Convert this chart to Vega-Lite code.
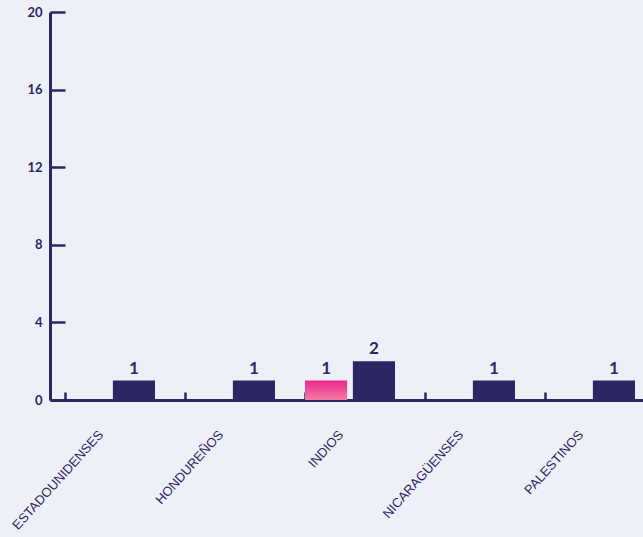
{
  "$schema": "https://vega.github.io/schema/vega-lite/v6.json",
  "width": 593,
  "height": 388,
  "autosize": {"type": "none"},
  "padding": {"left": 50, "top": 12, "right": 0, "bottom": 137},
  "background": "#eef0f8",
  "config": {"view": {"stroke": null}, "font": "Liberation Sans"},
  "data": {
    "values": [
      {"grupo": "ESTADOUNIDENSES", "serie": "Serie 2", "valor": 1},
      {"grupo": "HONDUREÑOS", "serie": "Serie 2", "valor": 1},
      {"grupo": "INDIOS", "serie": "Serie 1", "valor": 1},
      {"grupo": "INDIOS", "serie": "Serie 2", "valor": 2},
      {"grupo": "NICARAGÜENSES", "serie": "Serie 2", "valor": 1},
      {"grupo": "PALESTINOS", "serie": "Serie 2", "valor": 1}
    ]
  },
  "encoding": {
    "x": {
      "field": "grupo",
      "type": "nominal",
      "sort": null,
      "title": null,
      "scale": {"range": [0, 600], "paddingInner": 0.25, "paddingOuter": 0.125},
      "axis": {
        "bandPosition": 0,
        "labelOffset": -9,
        "labelAngle": -48,
        "labelAlign": "right",
        "labelBaseline": "middle",
        "labelPadding": 40,
        "labelFontSize": 13,
        "labelColor": "#2b2762",
        "tickSize": -8,
        "tickWidth": 2.5,
        "tickColor": "#2b2762",
        "domainColor": "#2b2762",
        "domainWidth": 3,
        "grid": false
      }
    },
    "xOffset": {"field": "serie", "type": "nominal", "scale": {"domain": ["Serie 1", "Serie 2"], "paddingInner": 0.12}},
    "y": {
      "field": "valor",
      "type": "quantitative",
      "title": null,
      "scale": {"domain": [0, 20]},
      "axis": {
        "values": [0, 4, 8, 12, 16, 20],
        "grid": false,
        "tickSize": -15,
        "tickWidth": 2.5,
        "tickColor": "#2b2762",
        "domainColor": "#2b2762",
        "domainWidth": 3,
        "labelPadding": 23,
        "labelFontSize": 13,
        "labelFontWeight": "bold",
        "labelColor": "#2b2762",
        "labelFont": "Lato"
      }
    }
  },
  "layer": [
    {
      "mark": {"type": "bar"},
      "encoding": {
        "color": {
          "condition": {
            "test": "datum.serie === 'Serie 1'",
            "value": {
              "gradient": "linear", "x1": 0, "y1": 0, "x2": 0, "y2": 1,
              "stops": [{"offset": 0, "color": "#e8288c"}, {"offset": 1, "color": "#f47ba4"}]
            }
          },
          "value": "#2b2762"
        }
      }
    },
    {
      "mark": {"type": "text", "baseline": "bottom", "dy": -3, "fontSize": 17, "fontWeight": "bold", "color": "#2b2762", "font": "Lato"},
      "encoding": {"text": {"field": "valor", "type": "quantitative"}}
    }
  ]
}
